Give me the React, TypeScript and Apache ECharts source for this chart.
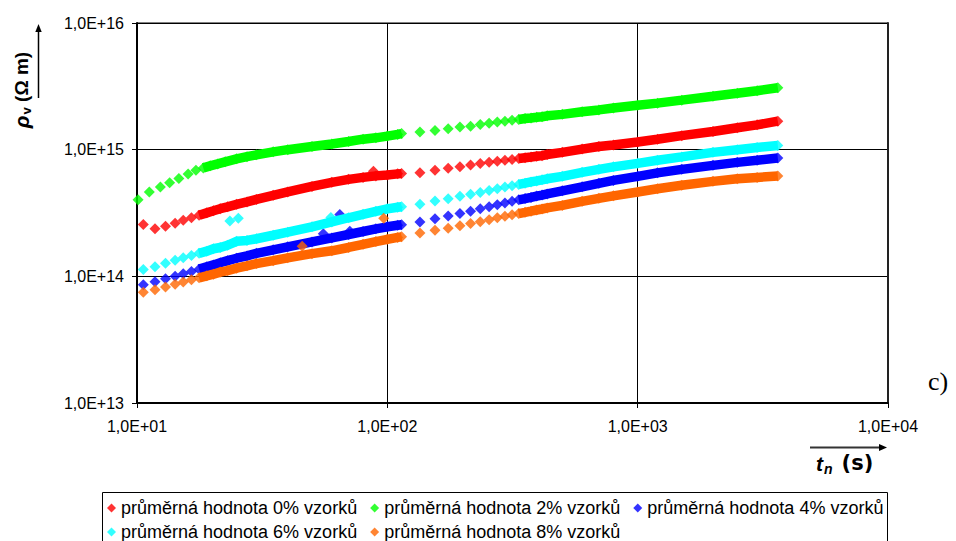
import React, { useEffect, useRef } from "react";
import * as echarts from "echarts";

// ---- data ----
const NAMES = [
  "průměrná hodnota 0% vzorků",
  "průměrná hodnota 2% vzorků",
  "průměrná hodnota 4% vzorků",
  "průměrná hodnota 6% vzorků",
  "průměrná hodnota 8% vzorků",
];
const COLORS = ["#FF0000", "#00FF00", "#0000FF", "#00FFFF", "#FF6600"];

// time (s)
const T_EARLY_GREEN = [10.1, 11.2, 12.4, 13.5, 14.7, 16, 17.2, 18.4, 19.6, 21, 22.5, 25, 27.5, 30, 35, 40, 50, 60, 70, 80, 90, 100, 110, 114];
const T_EARLY = [10.6, 11.8, 13, 14.2, 15.3, 16.5, 17.7, 19, 20.2, 21.5, 23, 25, 27.5, 30, 35, 40, 50, 60, 70, 80, 90, 100, 110, 114];
const T_LATE = [135, 155, 175, 195, 215, 235, 255, 275, 295, 315, 335, 355, 375, 395, 415, 435, 500, 600, 700, 800, 1000, 1200, 1500, 2000, 2500, 3000, 3630];

// resistivity values, in units of 1E+14 Ω m
const RED_EARLY = [2.57, 2.38, 2.48, 2.63, 2.77, 2.9, 3.03, 3.17, 3.29, 3.42, 3.54, 3.7, 3.87, 4.05, 4.36, 4.64, 5.13, 5.52, 5.83, 6.04, 6.21, 6.32, 6.44, 6.47];
const GREEN_EARLY = [4.03, 4.63, 5.07, 5.49, 5.93, 6.42, 6.87, 7.18, 7.45, 7.72, 8.01, 8.46, 8.81, 9.1, 9.61, 10.0, 10.6, 11.1, 11.6, 12.1, 12.4, 12.8, 13.2, 13.4];
const BLUE_EARLY = [0.857, 0.905, 0.955, 1.0, 1.05, 1.09, 1.14, 1.19, 1.23, 1.28, 1.33, 1.39, 1.45, 1.52, 1.62, 1.71, 1.87, 2.01, 2.14, 2.26, 2.37, 2.46, 2.53, 2.55];
const CYAN_EARLY = [1.13, 1.19, 1.27, 1.34, 1.4, 1.46, 1.52, 1.58, 1.65, 1.69, 1.76, 1.89, 1.92, 1.98, 2.11, 2.23, 2.46, 2.69, 2.9, 3.09, 3.26, 3.41, 3.51, 3.54];
const ORANGE_EARLY = [0.748, 0.785, 0.824, 0.865, 0.902, 0.938, 0.973, 1.01, 1.04, 1.08, 1.11, 1.16, 1.21, 1.26, 1.33, 1.4, 1.51, 1.59, 1.69, 1.79, 1.88, 1.96, 2.03, 2.05];

const RED_LATE = [6.58, 6.87, 7.12, 7.34, 7.56, 7.76, 7.94, 8.09, 8.24, 8.38, 8.51, 8.63, 8.74, 8.86, 8.97, 9.16, 9.52, 10.1, 10.6, 10.9, 11.5, 12.1, 12.9, 13.9, 14.9, 15.7, 16.8];
const GREEN_LATE = [13.8, 14.2, 14.6, 15.1, 15.3, 15.8, 16.2, 16.5, 16.8, 17.1, 17.3, 17.6, 17.8, 18.0, 18.2, 18.5, 19.0, 19.9, 20.6, 21.3, 22.4, 23.3, 24.6, 26.4, 27.9, 29.2, 30.8];
const BLUE_LATE = [2.68, 2.85, 2.99, 3.13, 3.26, 3.41, 3.55, 3.68, 3.8, 3.91, 4.02, 4.11, 4.2, 4.3, 4.38, 4.47, 4.73, 5.09, 5.42, 5.72, 6.16, 6.56, 6.99, 7.52, 7.94, 8.24, 8.58];
const CYAN_LATE = [3.7, 3.93, 4.1, 4.28, 4.44, 4.6, 4.77, 4.92, 5.07, 5.2, 5.32, 5.44, 5.56, 5.67, 5.78, 5.89, 6.16, 6.62, 6.99, 7.32, 7.8, 8.24, 8.77, 9.52, 10.0, 10.4, 10.8];
const ORANGE_LATE = [2.2, 2.31, 2.4, 2.51, 2.61, 2.7, 2.8, 2.9, 2.98, 3.06, 3.13, 3.2, 3.27, 3.34, 3.4, 3.47, 3.63, 3.91, 4.13, 4.32, 4.63, 4.91, 5.23, 5.62, 5.89, 6.04, 6.19];

// stray points off the main bands
const RED_OUT_T = [88];
const RED_OUT_V = [6.74];
const GREEN_OUT_T: number[] = [];
const GREEN_OUT_V: number[] = [];
const BLUE_OUT_T = [55.5, 64.6, 70.8];
const BLUE_OUT_V = [2.17, 3.08, 2.27];
const CYAN_OUT_T = [23.5, 25.4, 59.5];
const CYAN_OUT_V = [2.74, 2.88, 2.91];
const ORANGE_OUT_T = [45.7, 96.7];
const ORANGE_OUT_V = [1.73, 2.88];

const UNIT = 1e14;
const X_MIN = 10;
const X_MAX = 10000;
const Y_MIN = 1e13;
const Y_MAX = 1e16;

const FONT = "'Liberation Sans', Arial, sans-serif";

const pairs = (ts: number[], vs: number[]) => ts.map((t, i) => [t, vs[i] * UNIT]);

const SETS = [
  { tE: T_EARLY, vE: RED_EARLY, vL: RED_LATE, oT: RED_OUT_T, oV: RED_OUT_V },
  { tE: T_EARLY_GREEN, vE: GREEN_EARLY, vL: GREEN_LATE, oT: GREEN_OUT_T, oV: GREEN_OUT_V },
  { tE: T_EARLY, vE: BLUE_EARLY, vL: BLUE_LATE, oT: BLUE_OUT_T, oV: BLUE_OUT_V },
  { tE: T_EARLY, vE: CYAN_EARLY, vL: CYAN_LATE, oT: CYAN_OUT_T, oV: CYAN_OUT_V },
  { tE: T_EARLY, vE: ORANGE_EARLY, vL: ORANGE_LATE, oT: ORANGE_OUT_T, oV: ORANGE_OUT_V },
];

const expLabel = (v: number) => {
  const e = Math.round(Math.log10(v));
  return "1,0E+" + String(e).padStart(2, "0");
};

const SYMBOL = 11;
const BAND = 9.5;

export default function App() {
  const ref = useRef<HTMLDivElement>(null);

  useEffect(() => {
    if (!ref.current) return;
    const chart = echarts.init(ref.current, null, { renderer: "svg" });

    const series: any[] = [];
    SETS.forEach((s, k) => {
      const early = pairs(s.tE, s.vE);
      const late = pairs(T_LATE, s.vL);
      const out = pairs(s.oT, s.oV);
      series.push({
        name: NAMES[k],
        type: "scatter",
        symbol: "diamond",
        symbolSize: SYMBOL,
        itemStyle: { color: COLORS[k] },
        data: [...early, ...late, ...out],
        silent: true,
        z: 2 + k,
      });
      series.push({
        name: NAMES[k],
        type: "line",
        showSymbol: false,
        symbol: "none",
        lineStyle: { color: COLORS[k], width: BAND },
        itemStyle: { color: COLORS[k] },
        data: early.filter((p) => p[0] >= 17.5),
        silent: true,
        z: 2 + k,
      });
      series.push({
        name: NAMES[k],
        type: "line",
        showSymbol: false,
        symbol: "none",
        lineStyle: { color: COLORS[k], width: BAND },
        itemStyle: { color: COLORS[k] },
        data: late.filter((p) => p[0] >= 335),
        silent: true,
        z: 2 + k,
      });
    });

    const legendCommon = {
      orient: "horizontal",
      left: 102,
      itemWidth: 9,
      itemHeight: 9,
      itemGap: 13,
      padding: [6, 6, 2, 5],
      selectedMode: false,
      textStyle: { fontSize: 18, fontFamily: FONT, color: "#000" },
    };

    const option: any = {
      animation: false,
      backgroundColor: "#ffffff",
      grid: {
        left: 137,
        right: 68,
        top: 23,
        bottom: 138,
        show: true,
        borderColor: "#000",
        borderWidth: 1,
        backgroundColor: "transparent",
      },
      xAxis: {
        type: "log",
        logBase: 10,
        min: X_MIN,
        max: X_MAX,
        axisLine: { show: true, lineStyle: { color: "#000", width: 2 } },
        axisTick: { show: true, length: 5, lineStyle: { color: "#000", width: 1 } },
        minorTick: { show: false },
        axisLabel: {
          fontSize: 16,
          fontFamily: FONT,
          color: "#000",
          margin: 15,
          formatter: expLabel,
        },
        splitLine: { show: true, lineStyle: { color: "#000", width: 1 } },
      },
      yAxis: [
        {
          type: "log",
          logBase: 10,
          min: Y_MIN,
          max: Y_MAX,
          axisLine: { show: true, lineStyle: { color: "#000", width: 2 } },
          axisTick: { show: true, length: 5, lineStyle: { color: "#000", width: 1 } },
          minorTick: { show: false },
          axisLabel: {
            fontSize: 16,
            fontFamily: FONT,
            color: "#000",
            margin: 13,
            formatter: expLabel,
          },
          splitLine: { show: true, lineStyle: { color: "#000", width: 1 } },
        },
        {
          type: "log",
          logBase: 10,
          min: Y_MIN,
          max: Y_MAX,
          position: "right",
          axisLine: { show: true, lineStyle: { color: "#222", width: 2 } },
          axisTick: { show: false },
          axisLabel: { show: false },
          splitLine: { show: false },
        },
      ],
      legend: [
        {
          ...legendCommon,
          top: 493,
          data: NAMES.slice(0, 3).map((n) => ({ name: n, icon: "diamond" })),
        },
        {
          ...legendCommon,
          top: 517,
          data: NAMES.slice(3).map((n) => ({ name: n, icon: "diamond" })),
        },
      ],
      graphic: [
        // legend frame
        {
          type: "rect",
          shape: { x: 102.5, y: 492.5, width: 785, height: 70 },
          style: { fill: "none", stroke: "#000", lineWidth: 1 },
          z: 0,
        },
        // y axis title
        {
          type: "text",
          x: 21,
          y: 90,
          rotation: Math.PI / 2,
          style: {
            text: "{a|ρ}{b|v} {c|(Ω m)}",
            align: "center",
            verticalAlign: "middle",
            rich: {
              a: { fontSize: 21, fontWeight: "bold", fontStyle: "italic", fontFamily: FONT, fill: "#000", lineHeight: 24, verticalAlign: "middle" },
              b: { fontSize: 13, fontWeight: "bold", fontFamily: FONT, fill: "#000", lineHeight: 24, verticalAlign: "bottom", padding: [0, 2, 0, 1] },
              c: { fontSize: 19, fontWeight: "bold", fontFamily: FONT, fill: "#000", lineHeight: 24, verticalAlign: "middle" },
            },
          },
        },
        { type: "line", shape: { x1: 38.5, y1: 98, x2: 38.5, y2: 30 }, style: { stroke: "#000", lineWidth: 1.5 } },
        { type: "polygon", shape: { points: [[38.5, 24], [35.3, 32], [41.7, 32]] }, style: { fill: "#000" } },
        // x axis title
        {
          type: "text",
          x: 816,
          y: 463,
          style: {
            text: "{a|t}{b|n}{c|(s)}",
            align: "left",
            verticalAlign: "middle",
            rich: {
              a: { fontSize: 21, fontWeight: "bold", fontStyle: "italic", fontFamily: FONT, fill: "#000", lineHeight: 26, verticalAlign: "middle" },
              b: { fontSize: 14, fontWeight: "bold", fontStyle: "italic", fontFamily: FONT, fill: "#000", lineHeight: 26, verticalAlign: "bottom", padding: [0, 9, 0, 1] },
              c: { fontSize: 21, fontWeight: "bold", fontFamily: "'DejaVu Sans', 'Liberation Sans', sans-serif", fill: "#000", lineHeight: 26, verticalAlign: "middle" },
            },
          },
        },
        { type: "line", shape: { x1: 810, y1: 447.5, x2: 880, y2: 447.5 }, style: { stroke: "#333", lineWidth: 2 } },
        { type: "polygon", shape: { points: [[887, 447.5], [879, 444], [879, 451]] }, style: { fill: "#000" } },
        // panel label
        {
          type: "text",
          x: 928,
          y: 381,
          style: {
            text: "c)",
            fontSize: 26,
            fontFamily: "'Liberation Serif', 'Times New Roman', serif",
            fill: "#000",
            verticalAlign: "middle",
          },
        },
      ],
      series,
    };

    chart.setOption(option);
    return () => chart.dispose();
  }, []);

  return (
    <div
      ref={ref}
      style={{ position: "fixed", left: 0, top: 0, width: 956, height: 541, background: "#fff" }}
    />
  );
}
